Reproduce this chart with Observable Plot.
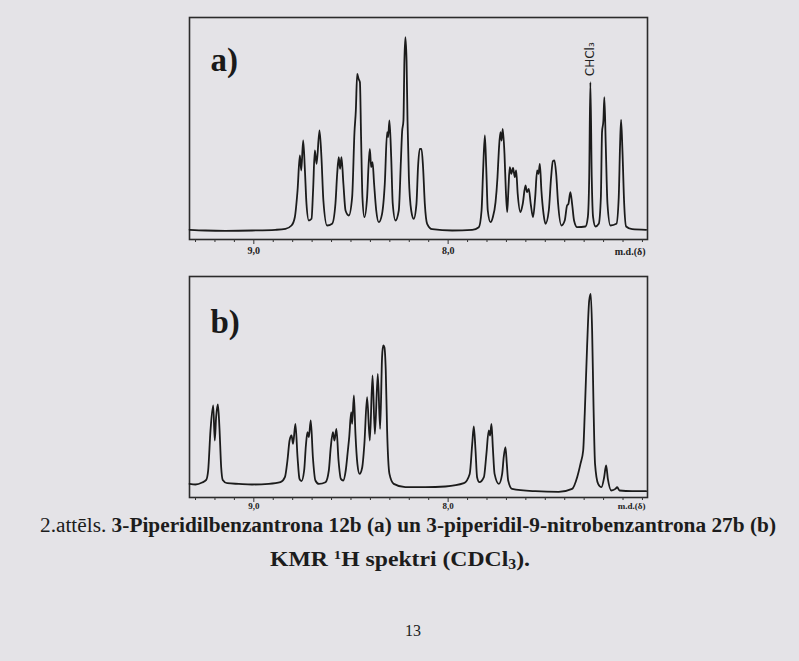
<!DOCTYPE html>
<html><head><meta charset="utf-8">
<script src="https://cdn.jsdelivr.net/npm/d3@7"></script>
<script src="https://cdn.jsdelivr.net/npm/@observablehq/plot@0.6"></script>
<style>
html,body{margin:0;padding:0;background:#e4e3e7;}
#page{position:relative;width:799px;height:661px;overflow:hidden;background:#e4e3e7;}
#pa{position:absolute;left:0;top:0;}
#pb{position:absolute;left:0;top:262px;}
#cap{position:absolute;left:0;top:0;}
</style></head><body>
<div id="page">
<svg id="cap" width="799" height="661" font-family="'Liberation Serif', serif" fill="#1c1c1c">
  <text x="40" y="532" font-size="20" font-weight="bold" textLength="736" lengthAdjust="spacingAndGlyphs"><tspan font-weight="normal">2.attēls.</tspan> 3-Piperidilbenzantrona 12b (a) un 3-piperidil-9-nitrobenzantrona 27b (b)</text>
  <text x="270" y="566" font-size="21" font-weight="bold" textLength="260" lengthAdjust="spacingAndGlyphs">KMR <tspan dy="-7" font-size="13">1</tspan><tspan dy="7">H spektri (CDCl</tspan><tspan dy="3" font-size="14">3</tspan><tspan dy="-3">).</tspan></text>
  <text x="413" y="636" font-size="16" text-anchor="middle">13</text>
</svg>
<div id="pa"></div>
<div id="pb"></div>
</div>
<script>
// ---- data: spectrum a) 3-piperidilbenzantrona 12b (chemical shift ppm, intensity) ----
const aPpm = [9.331,9.249,9.146,9.009,8.889,8.837,8.806,8.789,8.775,8.763,8.756,8.746,8.737,8.729,8.717,8.703,8.695,8.686,8.677,8.662,8.652,8.642,8.623,8.597,8.580,8.571,8.563,8.556,8.549,8.539,8.528,8.511,8.494,8.482,8.475,8.468,8.461,8.454,8.448,8.441,8.431,8.417,8.410,8.403,8.396,8.389,8.381,8.370,8.357,8.340,8.326,8.314,8.309,8.302,8.293,8.285,8.271,8.254,8.243,8.237,8.230,8.225,8.220,8.214,8.209,8.202,8.190,8.177,8.163,8.155,8.146,8.137,8.129,8.120,8.108,8.082,7.979,7.876,7.842,7.828,7.820,7.811,7.804,7.796,7.782,7.770,7.756,7.746,7.739,7.731,7.725,7.719,7.710,7.703,7.696,7.690,7.683,7.675,7.666,7.657,7.650,7.642,7.628,7.616,7.602,7.594,7.585,7.575,7.563,7.552,7.542,7.535,7.528,7.520,7.509,7.499,7.482,7.470,7.461,7.453,7.444,7.434,7.417,7.400,7.388,7.381,7.371,7.362,7.352,7.336,7.293,7.281,7.274,7.268,7.261,7.254,7.242,7.225,7.214,7.208,7.201,7.196,7.189,7.180,7.165,7.134,7.122,7.115,7.110,7.103,7.094,7.084,7.053,6.981];
const aInt = [0.7,0,-0.3,0,0.7,1.7,5,13.3,40,75,60,90,60,26.7,10,11.7,40,80,66.7,100,73.3,30,5,6.7,26.7,56.7,73.3,61.7,73.3,46.7,20,15,33.3,98.3,120,156.7,151.7,148.3,93.3,33.3,13.3,33.3,63.3,81.7,63.3,68.3,46.7,20,8.3,16.7,46.7,98.3,93.3,110,73.3,26.7,10,20,70,98.3,110,170,193.3,170,110,53.3,20,11.7,26.7,63.3,81.7,81.7,63.3,26.7,6.7,1.3,0,0.7,3.3,20,60,95,63.3,20,8.3,13.3,28.3,53.3,80,98.3,90,101.7,76.7,40,18.3,40,63.3,56.7,62.7,53.3,60,36.7,18.3,26.7,45,38.3,41.7,26.7,13.3,33.3,60,56.7,66.7,40,16.7,6.7,20,53.3,69.3,70,56.7,26.7,5,10,25,26.7,38.3,26.7,10,3.3,4,13.3,53.3,148.3,53.3,13.3,4,6.7,33.3,98.3,110,133.3,86.7,26.7,5,6.7,33.3,86.7,110.7,80,26.7,4,1.3,0.7];

// ---- data: spectrum b) 3-piperidil-9-nitrobenzantrona 27b ----
const bPpm = [9.331,9.300,9.266,9.245,9.235,9.223,9.209,9.201,9.194,9.185,9.177,9.168,9.160,9.137,9.077,9.009,8.923,8.863,8.840,8.827,8.816,8.806,8.798,8.786,8.775,8.765,8.755,8.741,8.732,8.724,8.717,8.707,8.696,8.683,8.665,8.631,8.614,8.604,8.593,8.585,8.575,8.564,8.552,8.540,8.527,8.516,8.509,8.499,8.494,8.485,8.477,8.467,8.456,8.442,8.431,8.417,8.403,8.389,8.377,8.362,8.350,8.340,8.334,8.328,8.321,8.314,8.302,8.280,8.220,8.117,8.014,7.919,7.889,7.876,7.868,7.859,7.851,7.839,7.816,7.803,7.791,7.784,7.777,7.770,7.761,7.739,7.722,7.714,7.705,7.698,7.691,7.671,7.551,7.431,7.362,7.336,7.319,7.305,7.297,7.285,7.274,7.266,7.259,7.252,7.244,7.228,7.211,7.197,7.187,7.178,7.160,7.139,7.130,7.118,7.053,6.981];
const bInt = [7.3,6.7,8.7,11.3,20.7,60.7,85.7,50.7,74,86.7,64,24,11.3,8,7.3,6.7,7.3,9,14,30.7,50.7,55.7,47.3,67.3,34,12.3,10,20.7,45.7,59,54,70.7,34,10.7,7.3,9,20.7,44,59,50.7,62.3,30.7,12.3,10.7,20.7,40.7,54,79,67.3,95.7,57.3,27.3,17.3,24,47.3,94,50.7,115.7,57.3,117.3,62.3,134,145.7,144,120.7,60.7,17.3,7.3,4,4,4.7,8,17.3,47.3,64.7,40.7,14,9,14,37.3,60.7,55.7,67.3,44,17.3,7.3,17.3,34,44,27.3,10.7,2.3,0,-0.7,2.3,14,27.3,40.7,77.3,144,190.7,197.3,160.7,87.3,27.3,7.3,4,14,25.7,12.3,0.7,2.3,4,0.7,0,0];

// ---- axis ticks and labels ----
const majorTicks = [9.0, 8.0];
const majorTickLabels = ["9,0", "8,0"];
const minorTicks = [9.3,9.2,9.1,8.9,8.8,8.7,8.6,8.5,8.4,8.3,8.2,8.1,7.9,7.8,7.7,7.6,7.5,7.4,7.3,7.2,7.1,7.0];
const axisUnit = "m.d.(δ)";
const panelLabels = ["a)", "b)"];
const solventLabel = {ppm: 7.268, int: 148.3, text: "CHCl₃"};

const xDomain = [9.331, 6.974];
const ink = "#1b1b1b";

function spectrum(ppm, intens, yDomain, opts) {
  const data = ppm.map((p, i) => ({ppm: p, int: intens[i]}));
  const marks = [
    Plot.frame({stroke: "#2b2b2b", strokeWidth: 1.6}),
    Plot.axisX({ticks: minorTicks, tickSize: 3, tickFormat: () => "", label: null, stroke: "#333"}),
    Plot.axisX({ticks: majorTicks, tickSize: 5, tickPadding: opts.tp, label: null, fontSize: opts.fs, fontWeight: "bold",
      tickFormat: d => majorTickLabels[majorTicks.indexOf(d)], stroke: "#333", fill: "#222"}),
    Plot.text([axisUnit], {frameAnchor: "bottom-right", dy: opts.udy, dx: -2, textAnchor: "end",
      lineAnchor: "middle", fontSize: opts.fs, fontWeight: "bold", fill: "#222"}),
    Plot.text([opts.label], {frameAnchor: "top-left", dx: 21, dy: opts.labelDy, textAnchor: "start",
      lineAnchor: "bottom", fontSize: 33, fontWeight: "bold", fill: "#1a1a1a"}),
    Plot.line(data, {x: "ppm", y: "int", curve: "monotone-x", stroke: ink, strokeWidth: 1.8,
      strokeLinejoin: "round"})
  ];
  if (opts.solvent) {
    marks.push(Plot.text([opts.solvent], {x: "ppm", y: "int", text: "text", rotate: -90, dy: -6,
      textAnchor: "start", lineAnchor: "middle", fontSize: 12, fontFamily: "'DejaVu Sans', sans-serif", fill: "#222"}));
  }
  return Plot.plot({
    width: 799, height: opts.height,
    marginLeft: 189, marginRight: 152, marginTop: opts.mt, marginBottom: opts.mb,
    x: {domain: xDomain},
    y: {domain: yDomain, axis: null},
    style: {background: "transparent", fontFamily: "'Liberation Serif', serif", color: "#222", overflow: "visible"},
    marks
  });
}

document.getElementById("pa").appendChild(
  spectrum(aPpm, aInt, [-9, 213], {height: 262, mt: 17, mb: 23, label: panelLabels[0], labelDy: 53,
    solvent: solventLabel, tp: 2, fs: 10, udy: 12})
);
document.getElementById("pb").appendChild(
  spectrum(bPpm, bInt, [-6.3, 214.7], {height: 258, mt: 14, mb: 23, label: panelLabels[1], labelDy: 56,
    tp: 0, fs: 9, udy: 9})
);
</script>
</body></html>
